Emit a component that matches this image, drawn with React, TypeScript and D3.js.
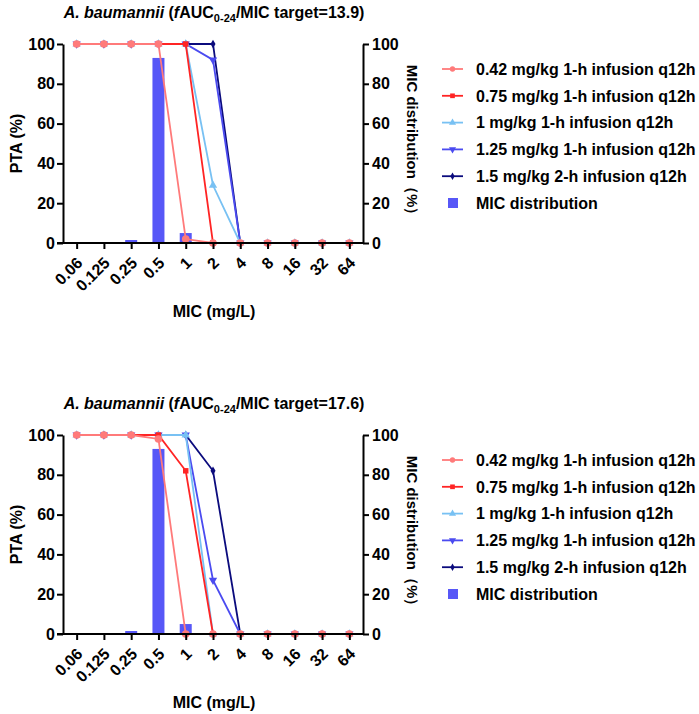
import { useEffect, useRef } from 'react';
import * as d3 from 'd3';

const micLabels = ['0.06', '0.125', '0.25', '0.5', '1', '2', '4', '8', '16', '32', '64'];

const seriesNames = [
  '0.42 mg/kg 1-h infusion q12h',
  '0.75 mg/kg 1-h infusion q12h',
  '1 mg/kg 1-h infusion q12h',
  '1.25 mg/kg 1-h infusion q12h',
  '1.5 mg/kg 2-h infusion q12h',
];
const seriesColors = ['#ff7a7a', '#ff2424', '#78c1f3', '#4b4bf0', '#0b0b7d'];
const seriesSymbols = [d3.symbolCircle, d3.symbolSquare, d3.symbolTriangle, d3.symbolTriangle, d3.symbolDiamond];

// PTA (%) per regimen, target 13.9
const pta139_042 = [100, 100, 100, 100, 2, 0, 0, 0, 0, 0, 0];
const pta139_075 = [100, 100, 100, 100, 100, 0, 0, 0, 0, 0, 0];
const pta139_1 = [100, 100, 100, 100, 100, 29, 0, 0, 0, 0, 0];
const pta139_125 = [100, 100, 100, 100, 100, 92, 0, 0, 0, 0, 0];
const pta139_15 = [100, 100, 100, 100, 100, 100, 0, 0, 0, 0, 0];

// PTA (%) per regimen, target 17.6
const pta176_042 = [100, 100, 100, 98, 0, 0, 0, 0, 0, 0, 0];
const pta176_075 = [100, 100, 100, 100, 82, 0, 0, 0, 0, 0, 0];
const pta176_1 = [100, 100, 100, 100, 100, 0, 0, 0, 0, 0, 0];
const pta176_125 = [100, 100, 100, 100, 100, 27, 0, 0, 0, 0, 0];
const pta176_15 = [100, 100, 100, 100, 100, 82, 0, 0, 0, 0, 0];

// MIC distribution (%)
const micDistribution = [0, 0, 1.5, 93, 5, 0, 0, 0, 0, 0, 0];

const yTicks = [0, 20, 40, 60, 80, 100];
const barColor = '#5757f7';
const FONT = "'Liberation Sans', Arial, sans-serif";

const panels = [
  { target: '13.9', series: [pta139_042, pta139_075, pta139_1, pta139_125, pta139_15] },
  { target: '17.6', series: [pta176_042, pta176_075, pta176_1, pta176_125, pta176_15] },
];

export default function App() {
  const svgRef = useRef<SVGSVGElement>(null);

  useEffect(() => {
    if (!svgRef.current) return;
    const svg = d3.select(svgRef.current);
    svg.selectAll('*').remove();

    const left = 63, right = 363, top = 44, bottom = 243;
    const x = d3.scalePoint<string>().domain(micLabels).range([left, right]).padding(0.5);
    const y = d3.scaleLinear().domain([0, 100]).range([bottom, top]);

    panels.forEach((panel, pi) => {
      const g = svg.append('g').attr('transform', `translate(0,${pi * 391})`)
        .style('font-family', FONT).style('font-weight', 'bold');

      // title
      const title = g.append('text').attr('x', 214).attr('y', 18)
        .attr('text-anchor', 'middle').attr('font-size', 16).attr('fill', '#000');
      title.append('tspan').attr('font-style', 'italic').text('A. baumannii');
      title.append('tspan').text(' (');
      title.append('tspan').attr('font-style', 'italic').text('f');
      title.append('tspan').text('AUC');
      title.append('tspan').attr('font-size', 11).attr('dy', 4).text('0-24');
      title.append('tspan').attr('dy', -4).text('/MIC target=' + panel.target + ')');

      // bars
      g.selectAll('.bar').data(micDistribution).enter().append('rect')
        .attr('x', (_, i) => (x(micLabels[i]) || 0) - 6)
        .attr('y', d => y(d))
        .attr('width', 12)
        .attr('height', d => bottom - y(d))
        .attr('fill', barColor);

      // lines, last series first so 0.42 ends on top
      const line = d3.line<number>().x((_, i) => x(micLabels[i]) || 0).y(d => y(d));
      for (let s = panel.series.length - 1; s >= 0; s--) {
        const vals = panel.series[s];
        g.append('path').datum(vals).attr('d', line)
          .attr('fill', 'none').attr('stroke', seriesColors[s]).attr('stroke-width', 1.8);
        const sym = d3.symbol().type(seriesSymbols[s]).size(s === 4 ? 22 : s === 0 ? 46 : 30);
        g.selectAll(`.m${s}`).data(vals).enter().append('path')
          .attr('d', sym)
          .attr('transform', (d, i) => `translate(${x(micLabels[i])},${y(d)})${s === 3 ? ' rotate(180)' : ''}`)
          .attr('fill', seriesColors[s]);
      }

      // axes
      const yl = g.append('g').attr('transform', `translate(${left},0)`)
        .call(d3.axisLeft(y).tickValues(yTicks).tickSize(6).tickSizeOuter(0).tickPadding(2));
      const yr = g.append('g').attr('transform', `translate(${right},0)`)
        .call(d3.axisRight(y).tickValues(yTicks).tickSize(6).tickSizeOuter(0).tickPadding(3));
      const xa = g.append('g').attr('transform', `translate(0,${bottom})`)
        .call(d3.axisBottom(x).tickSize(6).tickSizeOuter(0).tickFormat(() => ''));
      [yl, yr, xa].forEach(a => {
        a.selectAll('path, line').attr('stroke', '#000').attr('stroke-width', 2);
        a.selectAll('text').attr('font-size', 16).attr('fill', '#000')
          .style('font-family', FONT).style('font-weight', 'bold');
      });
      xa.select('.domain').attr('d', `M${left - 6},0H${right}`);

      // rotated x tick labels
      g.selectAll('.xl').data(micLabels).enter().append('text')
        .attr('transform', d => `translate(${(x(d) || 0) + 7},${bottom + 21}) rotate(-45)`)
        .attr('text-anchor', 'end').attr('font-size', 16).attr('fill', '#000')
        .text(d => d);

      // axis titles
      g.append('text').attr('transform', `translate(22,${(top + bottom) / 2}) rotate(-90)`)
        .attr('text-anchor', 'middle').attr('font-size', 16).text('PTA (%)');
      g.append('text').attr('x', 214).attr('y', 317)
        .attr('text-anchor', 'middle').attr('font-size', 16).text('MIC (mg/L)');
      g.append('text').attr('transform', `translate(407,${(top + bottom) / 2}) rotate(90)`)
        .attr('text-anchor', 'middle').attr('font-size', 15).text('MIC distribution（%）');

      // legend
      const leg = g.append('g').attr('transform', 'translate(442,69)');
      seriesNames.forEach((name, s) => {
        const row = leg.append('g').attr('transform', `translate(0,${s * 26.8})`);
        row.append('line').attr('x1', 0).attr('x2', 21).attr('y1', 0).attr('y2', 0)
          .attr('stroke', seriesColors[s]).attr('stroke-width', 1.8);
        row.append('path').attr('d', d3.symbol().type(seriesSymbols[s]).size(s === 4 ? 16 : 22))
          .attr('transform', `translate(10.5,0)${s === 3 ? ' rotate(180)' : ''}`)
          .attr('fill', seriesColors[s]);
        row.append('text').attr('x', 34).attr('dy', '0.36em').attr('font-size', 16).text(name);
      });
      const mrow = leg.append('g').attr('transform', `translate(0,${5 * 26.8})`);
      mrow.append('rect').attr('x', 6).attr('y', -5).attr('width', 10).attr('height', 10).attr('fill', barColor);
      mrow.append('text').attr('x', 34).attr('dy', '0.36em').attr('font-size', 16).text('MIC distribution');
    });
  }, []);

  return (
    <svg ref={svgRef} width={699} height={714}
      style={{ position: 'absolute', left: 0, top: 0, background: '#fff' }} />
  );
}
